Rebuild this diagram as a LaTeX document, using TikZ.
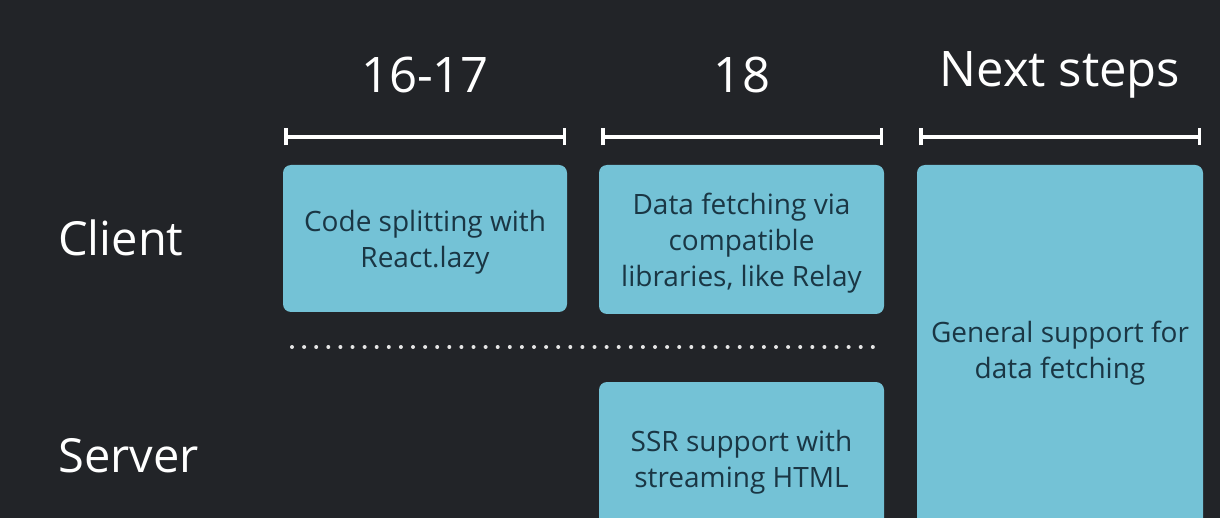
\documentclass[tikz,border=0pt]{standalone}
\usepackage{fontspec}
\setmainfont{Open Sans}
\usetikzlibrary{arrows.meta}
\definecolor{bg}{HTML}{222428}
\definecolor{boxc}{HTML}{74C2D6}
\definecolor{boxtext}{HTML}{1A3644}
\newcommand{\cardtext}[1]{\raisebox{0pt}[\dimexpr\height+8pt\relax][\depth]{\begin{tabular}{@{}c@{}}#1\end{tabular}}}
\tikzset{
  card/.style={fill=boxc, rounded corners=8pt, inner sep=0pt,
    text=boxtext, font=\fontsize{28}{36}\selectfont},
  head/.style={text=white, font=\fontsize{49}{52}\selectfont, anchor=center},
  rowlabel/.style={text=white, font=\fontsize{47}{50}\selectfont, anchor=west, inner sep=0pt},
  span/.style={draw=white, line width=3.5pt, {Bar[width=17pt,line width=3.5pt]}-{Bar[width=17pt,line width=3.5pt]}},
  sep/.style={draw=white!90!black, line width=4pt, line cap=round, dash pattern=on 0pt off 12.1pt}
}
\begin{document}
\begin{tikzpicture}[x=1pt,y=-1pt]
\fill[bg] (0,0) rectangle (1220,518);
\clip (0,0) rectangle (1220,518);
% headers
\node[head] (h1) at (425,75) {16-17};
\node[head] (h2) at (742,75) {18};
\node[head] (h3) at (1060,75) {Next steps};
% spans
\coordinate (s1a) at (284,137); \coordinate (s1b) at (566,137);
\coordinate (s2a) at (601,137); \coordinate (s2b) at (883,137);
\coordinate (s3a) at (919,137); \coordinate (s3b) at (1201,137);
\draw[span] (s1a) -- (s1b);
\draw[span] (s2a) -- (s2b);
\draw[span] (s3a) -- (s3b);
% row labels
\node[rowlabel] (client) at (58,238) {Client};
\node[rowlabel] (server) at (58,456) {Server};
% boxes
\node[card, minimum width=284pt, minimum height=147pt] (b1) at (425,238.5)
  {\cardtext{Code splitting with\\React.lazy}};
\node[card, minimum width=285pt, minimum height=149pt] (b2) at (741.5,239.5)
  {\cardtext{Data fetching via\\compatible\\libraries, like Relay}};
\node[card, minimum width=286pt, minimum height=368pt] (b3) at (1060,349)
  {\cardtext{General support for\\data fetching}};
\node[card, minimum width=285pt, minimum height=152pt] (b4) at (741.5,458)
  {\cardtext{SSR support with\\streaming HTML}};
% separator
\coordinate (d1) at (292,347); \coordinate (d2) at (873,347);
\draw[sep] (d1) -- (d2);
\end{tikzpicture}
\end{document}
